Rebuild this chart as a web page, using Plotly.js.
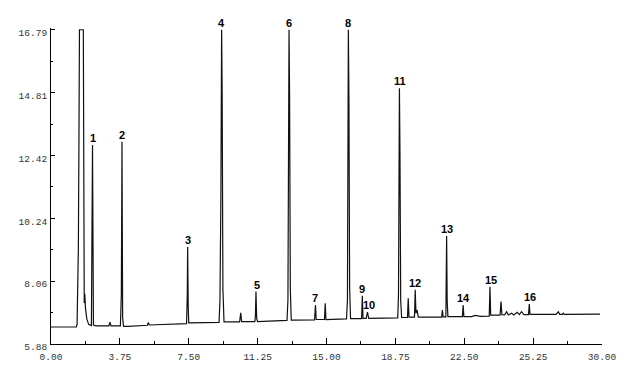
<!DOCTYPE html>
<html>
<head>
<meta charset="utf-8">
<script src="https://cdn.plot.ly/plotly-3.0.1.min.js"></script>
<style>html,body{margin:0;padding:0;background:#fff;}#chart{width:631px;height:376px;}</style>
</head>
<body>
<div id="chart"></div>
<script>
// Chromatogram trace vertices (time in min, detector response)
const retentionTime = [
  0.00, 1.38, 1.42, 1.46, 1.49, 1.52, 1.55, 1.76, 1.79, 1.81, 1.84, 1.88, 1.95, 2.05,
  2.20, 2.26, 2.31, 2.45, 3.15, 3.21, 3.26, 3.78, 3.83, 3.865, 3.90, 3.95, 4.20,
  5.25, 5.30, 5.35, 6.50, 7.38, 7.42, 7.44, 7.47, 7.50,
  9.15, 9.20, 9.25, 9.29, 9.32, 9.36, 9.42,
  10.27, 10.33, 10.38, 11.10, 11.13, 11.16, 11.20, 11.25,
  12.85, 12.90, 12.93, 12.96, 12.99, 13.03, 13.08,
  14.35, 14.40, 14.44, 14.89, 14.93, 14.97,
  16.09, 16.14, 16.17, 16.19, 16.22, 16.26, 16.31,
  16.91, 16.95, 16.99, 17.16, 17.23, 17.30,
  18.88, 18.92, 18.95, 18.97, 19.00, 19.04, 19.09,
  19.41, 19.45, 19.49, 19.79, 19.83, 19.87, 19.93, 20.00,
  21.27, 21.31, 21.35, 21.50, 21.52, 21.54, 21.57, 21.61,
  22.40, 22.44, 22.48, 22.90, 23.10, 23.40, 23.86, 23.90, 23.94,
  24.45, 24.50, 24.55, 24.70, 24.81, 24.90, 25.08, 25.20, 25.38, 25.50, 25.62, 25.75,
  26.00, 26.04, 26.08, 27.50, 27.62, 27.70, 27.85, 27.89, 27.95, 29.89
];
const response = [
  6.47, 6.47, 6.56, 8.40, 9.21, 12.80, 16.79, 16.79, 9.80, 7.30, 7.62, 7.10, 6.75, 6.56,
  6.52, 12.79, 6.54, 6.51, 6.51, 6.64, 6.51, 6.51, 7.60, 12.90, 6.80, 6.49, 6.49,
  6.53, 6.63, 6.54, 6.57, 6.59, 7.60, 9.25, 7.20, 6.61,
  6.63, 7.40, 11.00, 16.79, 14.50, 7.80, 6.65,
  6.65, 6.96, 6.66, 6.66, 6.85, 7.70, 6.75, 6.66,
  6.70, 7.40, 11.00, 16.79, 14.50, 7.80, 6.71,
  6.72, 7.23, 6.73, 6.73, 7.29, 6.73,
  6.75, 7.40, 11.00, 16.79, 14.50, 7.80, 6.76,
  6.76, 7.55, 6.77, 6.77, 6.99, 6.77,
  6.79, 7.60, 11.50, 14.76, 12.50, 7.40, 6.80,
  6.80, 7.47, 6.81, 6.81, 7.76, 6.95, 7.06, 6.81,
  6.81, 7.06, 6.82, 6.82, 7.60, 9.63, 7.40, 6.83,
  6.83, 7.23, 6.83, 6.83, 6.87, 6.84, 6.85, 7.87, 6.88,
  6.88, 7.35, 6.90, 6.89, 7.00, 6.89, 6.95, 6.89, 6.98, 6.90, 7.00, 6.90,
  6.90, 7.27, 6.91, 6.91, 7.00, 6.91, 6.91, 6.95, 6.91, 6.92
];

// Numbered peaks
const peakLabels = ["1","2","3","4","5","6","7","8","9","10","11","12","13","14","15","16"];
const peakTimes  = [2.26, 3.865, 7.44, 9.29, 11.16, 12.96, 14.40, 16.19, 16.95, 17.23, 18.97, 19.83, 21.54, 22.44, 23.90, 26.04];
const peakHeights = [12.79, 12.90, 9.25, 16.79, 7.70, 16.79, 7.23, 16.79, 7.55, 6.99, 14.76, 7.76, 9.63, 7.23, 7.87, 7.27];

// Axis ticks
const xTickVals = [0, 3.75, 7.5, 11.25, 15, 18.75, 22.5, 26.25, 30];
const xTickText = ["0.00", "3.75", "7.50", "11.25", "15.00", "18.75", "22.50", "25.25", "30.00"];
const yTickVals = [5.88, 8.062, 10.244, 12.426, 14.608, 16.79];
const yTickText = ["5.88", "8.06", "10.24", "12.42", "14.81", "16.79"];

const xMinor = [];
for (let i = 0; i < xTickVals.length - 1; i++) xMinor.push((xTickVals[i] + xTickVals[i+1]) / 2);
const yMinor = [];
for (let i = 0; i < yTickVals.length - 1; i++) yMinor.push((yTickVals[i] + yTickVals[i+1]) / 2);

const trace = {
  x: retentionTime, y: response, type: 'scatter', mode: 'lines',
  line: {color: '#111', width: 1.2}, hoverinfo: 'skip', showlegend: false
};

const xShift = {"10": 2, "5": 1, "15": 1, "16": 1, "11": 1};
const annotations = peakLabels.map((lab, i) => ({
  x: peakTimes[i], y: peakHeights[i], xref: 'x', yref: 'y',
  text: '<b>' + lab + '</b>', showarrow: false, yanchor: 'bottom', xanchor: 'center',
  xshift: xShift[lab] || 0, yshift: -1,
  font: {family: 'Liberation Sans, Arial, sans-serif', size: 11, color: '#000'}
}));

const tickFont = {family: 'Liberation Mono, DejaVu Sans Mono, monospace', size: 9.5, color: '#333'};

const layout = {
  width: 631, height: 376,
  margin: {l: 51, r: 29, t: 28, b: 32, pad: 0},
  paper_bgcolor: '#fff', plot_bgcolor: '#fff',
  showlegend: false,
  xaxis: {
    range: [0, 30], showgrid: false, zeroline: false,
    showline: true, linecolor: '#000', linewidth: 1,
    tickmode: 'array', tickvals: xTickVals, ticktext: xTickText,
    ticks: 'inside', ticklen: 6, tickcolor: '#000', tickwidth: 1,
    ticklabelstandoff: 4,
    minor: {tickmode: 'array', tickvals: xMinor, ticks: 'inside', ticklen: 3, tickcolor: '#000', showgrid: false},
    tickfont: tickFont, fixedrange: true
  },
  yaxis: {
    range: [5.88, 16.85], showgrid: false, zeroline: false,
    showline: true, linecolor: '#000', linewidth: 1,
    tickmode: 'array', tickvals: yTickVals, ticktext: yTickText,
    ticks: 'inside', ticklen: 4, tickcolor: '#000', tickwidth: 1,
    ticklabelshift: 3, ticklabelstandoff: 1,
    minor: {tickmode: 'array', tickvals: yMinor, ticks: 'inside', ticklen: 2, tickcolor: '#000', showgrid: false},
    tickfont: tickFont, fixedrange: true
  },
  annotations: annotations
};

Plotly.newPlot('chart', [trace], layout, {staticPlot: true, displayModeBar: false});
</script>
</body>
</html>
